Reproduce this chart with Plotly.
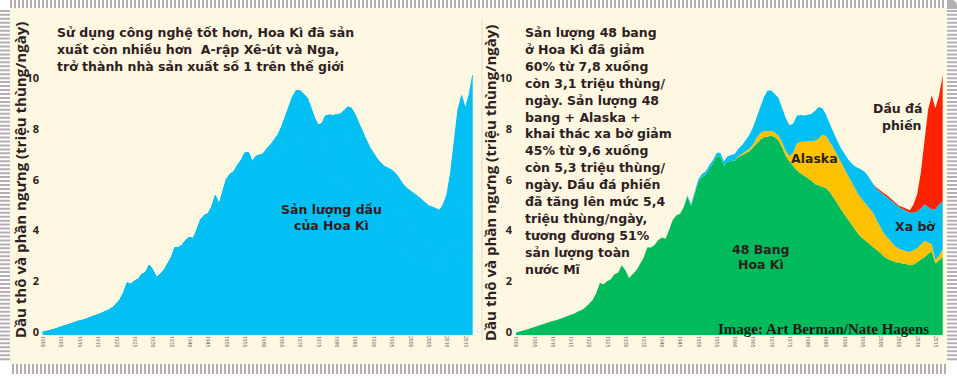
import plotly.graph_objects as go

# ---------------- data (million barrels/day) ----------------
years = list(range(1900, 2018))

lower48 = [
    0.10, 0.13, 0.17, 0.21, 0.26, 0.31, 0.34, 0.40, 0.46, 0.50,
    0.55, 0.58, 0.63, 0.68, 0.74, 0.79, 0.85, 0.92, 0.98, 1.08,
    1.25, 1.38, 1.65, 2.05, 2.00, 2.12, 2.20, 2.40, 2.45, 2.75,
    2.55, 2.25, 2.40, 2.55, 2.80, 3.05, 3.45, 3.45, 3.55, 3.75,
    3.85, 3.80, 4.15, 4.55, 4.72, 4.78, 5.05, 5.47, 5.10, 5.57,
    6.05, 6.23, 6.32, 6.57, 6.77, 7.05, 7.05, 6.68, 6.85, 6.87,
    6.88, 7.02, 7.10, 7.15, 7.25, 7.40, 7.58, 7.72, 7.80, 7.82,
    7.86, 7.80, 7.68, 7.40, 7.05, 6.85, 6.65, 6.50, 6.38, 6.28,
    6.19, 6.10, 5.95, 5.90, 5.85, 5.80, 5.65, 5.45, 5.22, 4.98,
    4.78, 4.55, 4.35, 4.15, 3.95, 3.82, 3.70, 3.58, 3.48, 3.35,
    3.22, 3.08, 3.00, 2.93, 2.88, 2.84, 2.82, 2.80, 2.75, 2.78,
    2.87, 2.97, 3.07, 3.20, 3.30, 2.82, 2.94, 3.07,
]

alaska = [0.0] * 60 + [
    0.01, 0.03, 0.05, 0.08, 0.10, 0.12, 0.20, 0.25, 0.25, 0.22,
    0.20, 0.18, 0.18, 0.20, 0.20, 0.20, 0.55, 1.05, 1.25, 1.35,
    1.45, 1.55, 1.72, 1.85, 2.05, 2.05, 2.00, 1.95, 1.90, 1.85,
    1.80, 1.75, 1.70, 1.62, 1.56, 1.52, 1.45, 1.38, 1.32, 1.15,
    1.00, 0.90, 0.82, 0.72, 0.62, 0.56, 0.52, 0.50, 0.52, 0.55,
    0.55, 0.60, 0.65, 0.45, 0.28, 0.14, 0.19, 0.32,
]

offshore = [0.0] * 47 + [
    0.03, 0.05, 0.08,
    0.10, 0.12, 0.13, 0.13, 0.13, 0.13, 0.15, 0.17, 0.20, 0.23,
    0.26, 0.30, 0.35, 0.47, 0.55, 0.68, 0.82, 1.03, 1.35, 1.61,
    1.59, 1.52, 1.49, 1.35, 1.30, 1.23, 1.15, 1.10, 1.05, 1.03,
    1.04, 1.07, 1.18, 1.25, 1.05, 0.85, 0.70, 0.60, 0.58, 0.57,
    0.57, 0.65, 0.73, 0.88, 1.07, 1.16, 1.23, 1.19, 1.15, 1.25,
    1.40, 1.53, 1.60, 1.65, 1.67, 1.65, 1.63, 1.60, 1.55, 1.50,
    1.45, 1.42, 1.43, 1.40, 1.38, 2.00, 2.02, 1.89,
]

shale = [0.0] * 99 + [
    0.05,
    0.06, 0.07, 0.06, 0.05, 0.05, 0.05, 0.08, 0.10, 0.10, 0.32,
    0.68, 1.41, 2.45, 3.85, 4.49, 3.99, 4.30, 4.97,
]

y_ticks = [0, 2, 4, 6, 8, 10]
x_ticks = list(range(1900, 2016, 5))

title_lines = [
    "Sử dụng công nghệ tốt hơn, Hoa Kì đã sản",
    "xuất còn nhiều hơn  A-rập Xê-út và Nga,",
    "trở thành nhà sản xuất số 1 trên thế giới",
]
note_lines = [
    "Sản lượng 48 bang", "ở Hoa Kì đã giảm", "60% từ 7,8 xuống",
    "còn 3,1 triệu thùng/", "ngày. Sản lượng 48", "bang + Alaska +",
    "khai thác xa bờ giảm", "45% từ 9,6 xuống", "còn 5,3 triệu thùng/",
    "ngày. Dầu đá phiến", "đã tăng lên mức 5,4", "triệu thùng/ngày,",
    "tương đương 51%", "sản lượng toàn", "nước Mĩ",
]
y_title = "Dầu thô và phần ngưng (triệu thùng/ngày)"

# ---------------- styling ----------------
W, H = 957, 378
CREAM = "#FEF7E2"
STRIPE = "#B8AEB1"
TXT = "#2E1E1E"
BLUE = "#03BFF3"
GREEN = "#00BA5C"
YELLOW = "#FFC200"
RED = "#FF2200"
FONT = "DejaVu Sans"


def fx(px):
    return px / W


def fy(py):
    return 1 - py / H


fig = go.Figure()

# left panel: US total, all components in one blue
for vals in (lower48, alaska, offshore, shale):
    fig.add_trace(go.Scatter(
        x=years, y=vals, stackgroup="left", mode="lines",
        line=dict(width=1, color=BLUE), fillcolor=BLUE,
        xaxis="x", yaxis="y", showlegend=False, hoverinfo="skip"))

# right panel: components
for vals, col in ((lower48, GREEN), (alaska, YELLOW), (offshore, BLUE), (shale, RED)):
    fig.add_trace(go.Scatter(
        x=years, y=vals, stackgroup="right", mode="lines",
        line=dict(width=0, color=col), fillcolor=col,
        xaxis="x2", yaxis="y2", showlegend=False, hoverinfo="skip"))

# axis geometry
base_py, top_py, ppu = 338.5, 40.0, 25.6
y_range = [0, (base_py - top_py) / ppu]


def yr_left(px):
    return 1900 + (px - 42.7) / 3.675


def yr_right(px):
    return 1900 + (px - 516.0) / 3.647


xcommon = dict(showgrid=False, zeroline=False, showline=False, ticks="",
               tickvals=x_ticks, ticktext=[str(v) for v in x_ticks],
               tickangle=90, tickfont=dict(size=5, color="#555555", family="Open Sans"))
ycommon = dict(showgrid=False, zeroline=False, showline=False, ticks="",
               range=y_range, tickvals=y_ticks, ticklabelshift=-3,
               tickfont=dict(size=11, color=TXT, family="Open Sans", weight="bold"),
               domain=[fy(base_py), fy(top_py)])

fig.update_layout(
    width=W, height=H, autosize=False,
    margin=dict(l=0, r=0, t=0, b=0, pad=0),
    paper_bgcolor="white", plot_bgcolor="rgba(0,0,0,0)",
    xaxis=dict(domain=[fx(40), fx(476)], range=[yr_left(40), yr_left(476)],
               anchor="y", **xcommon),
    yaxis=dict(anchor="x", **ycommon),
    xaxis2=dict(domain=[fx(513), fx(946)], range=[yr_right(513), yr_right(946)],
                anchor="y2", **xcommon),
    yaxis2=dict(anchor="x2", **ycommon),
    hovermode=False,
)

# ---------------- frame decoration ----------------
shapes = []
shapes.append(dict(type="rect", xref="paper", yref="paper", layer="below",
                   x0=fx(10), x1=fx(947), y0=fy(368), y1=fy(8),
                   fillcolor=CREAM, line=dict(width=0)))
segs = []
for x in range(11, 946, 4):
    segs.append(f"M{fx(x):.5f},{fy(0):.5f}L{fx(x):.5f},{fy(8):.5f}")
for x in range(13, 946, 4):
    segs.append(f"M{fx(x):.5f},{fy(368):.5f}L{fx(x):.5f},{fy(378):.5f}")
for y in range(11, 367, 4):
    segs.append(f"M{fx(0):.5f},{fy(y):.5f}L{fx(10):.5f},{fy(y):.5f}")
for y in range(11, 366, 4):
    segs.append(f"M{fx(947):.5f},{fy(y):.5f}L{fx(957):.5f},{fy(y):.5f}")
shapes.append(dict(type="path", xref="paper", yref="paper", layer="below",
                   path="".join(segs), line=dict(color=STRIPE, width=2)))
shapes.append(dict(type="path", xref="paper", yref="paper", layer="below",
                   path=(f"M{fx(947)},{fy(9)}L{fx(947)},{fy(0)}L{fx(951)},{fy(0)}"
                         f"Q{fx(957)},{fy(0)} {fx(957)},{fy(6)}L{fx(957)},{fy(9)}Z"),
                   fillcolor=STRIPE, line=dict(width=0)))
shapes.append(dict(type="line", xref="paper", yref="paper", layer="below",
                   x0=fx(482), x1=fx(482), y0=fy(345), y1=fy(20),
                   line=dict(color="#E4DCD0", width=1)))
fig.update_layout(shapes=shapes)


# ---------------- texts ----------------
def ann(text, x, y, size=12.5, xanchor="center", align="center", angle=0,
        family=FONT, weight="bold", color=TXT):
    fig.add_annotation(text=text, x=fx(x), y=fy(y), xref="paper", yref="paper",
                       showarrow=False, xanchor=xanchor, yanchor="middle",
                       align=align, textangle=angle, borderpad=0,
                       font=dict(size=size, family=family, color=color, weight=weight))


def lines(items, x, y0, step, **kw):
    for i, t in enumerate(items):
        ann(t, x, y0 + i * step, **kw)


lines(title_lines, 56, 33, 17, xanchor="left")
lines(note_lines, 524, 33, 17.07, xanchor="left")

ann(y_title, 20, 182, size=15, angle=-90, family="Open Sans")
ann(y_title, 490, 185, size=15, angle=-90, family="Open Sans")

lines(["Sản lượng dầu", "của Hoa Kì"], 331, 212, 16.3)
ann("Alaska", 814, 160)
lines(["Dầu đá", "phiến"], 923, 110, 17, xanchor="right")
ann("Xa bờ", 915, 229)
lines(["48 Bang", "Hoa Kì"], 761, 252, 15.6)
ann("Image: Art Berman/Nate Hagens", 823, 333, size=15,
    family="Liberation Serif", color="#1E1A16")

fig.write_html(
    "out.html",
    config={"displayModeBar": False, "staticPlot": True},
    post_script="document.body.style.margin='0';document.body.style.padding='0';"
                "document.body.style.overflow='hidden';",
)
